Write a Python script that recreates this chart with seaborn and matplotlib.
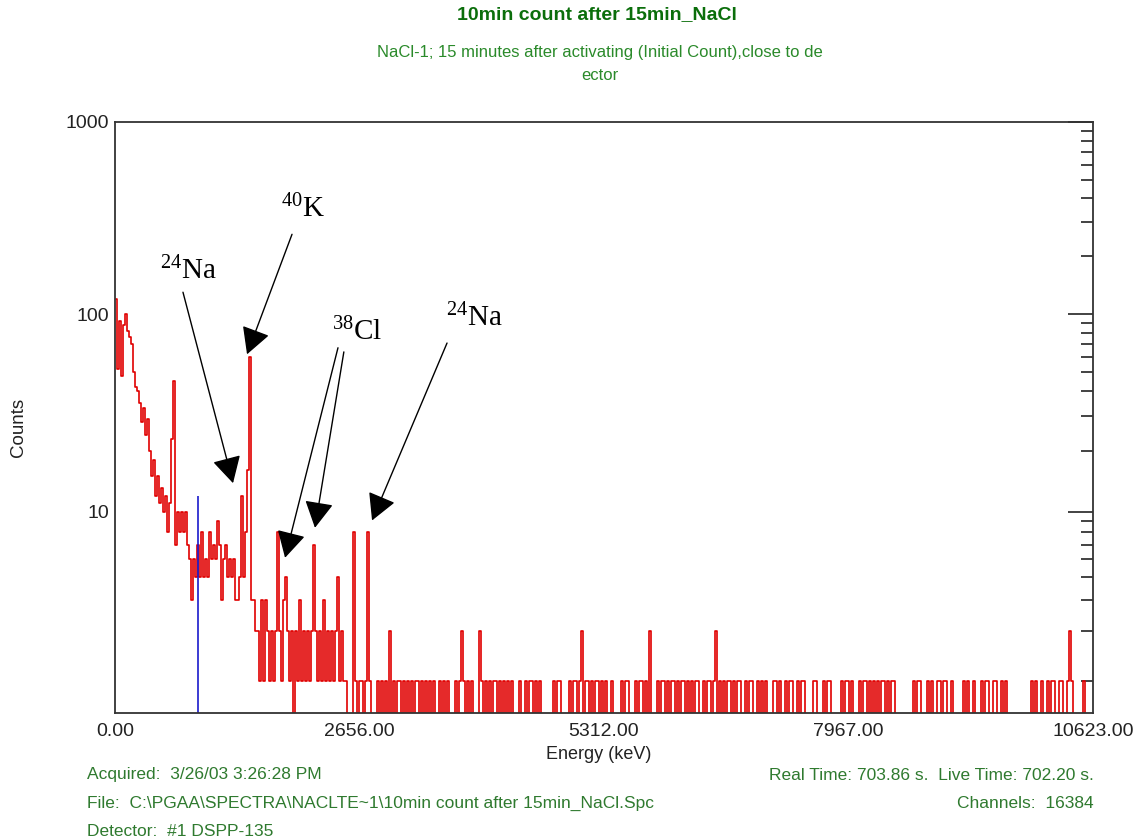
import numpy as np
import pandas as pd
import matplotlib
matplotlib.use("Agg")
import matplotlib.pyplot as plt
from matplotlib.ticker import FixedLocator, FixedFormatter, NullFormatter
import seaborn as sns

# ---------------------------------------------------------------- data
FULL_SCALE_KEV = 10623.0
N_BINS = 489                      # display bins across the full energy range

# counts per display bin, 0 .. ~2800 keV
low_counts = [
    120, 52, 92, 48, 88, 100, 82, 76, 70, 50,
    42, 40, 35, 28, 33, 24, 29, 20, 15, 18,
    12, 15, 11, 13, 10, 12, 8, 11, 23, 45,
    7, 10, 8, 10, 8, 10, 7, 6, 4, 6,
    5, 7, 5, 8, 5, 6, 5, 8, 6, 7,
    6, 9, 7, 4, 6, 7, 5, 6, 5, 6,
    4, 4, 5, 12, 5, 8, 16, 60, 4, 4,
    3, 3, 2, 4, 2, 4, 3, 2, 3, 2,
    3, 8, 3, 2, 4, 5, 3, 2, 3, 0,
    3, 2, 4, 2, 3, 2, 3, 2, 3, 7,
    3, 2, 3, 2, 4, 2, 3, 2, 3, 2,
    3, 5, 2, 3, 2, 2, 0, 0, 0, 8,
    2, 0, 2, 2, 0, 2, 8, 2, 0,
]

# counts per display bin above ~2800 keV, one digit per bin
high_counts_digits = (
    "0020202030" "2022020" "2020220202" "0202" "00" "20202" "000" "20232"
    "0202" "000" "3202" "02022" "020202" "02" "000" "20" "0" "202202" "02"
    "000000" "20220" "000" "20220230" "22020220202" "00" "20000" "2022000"
    "202202030" "00" "2022020220" "20220" "2020" "2200" "20220230" "202022020"
    "2200" "202200" "20202000" "220200" "202200" "20220000" "22000"
    "202200000" "202202000" "2022020" "2020220" "20220" "00000000" "202200020"
    "200" "220" "2200" "200000" "20200" "2000" "202200" "2200" "2020"
    "00000000000" "20200" "200" "202200" "2200" "23200000" "20000"
)

marker_energy = 898.0             # cursor position (keV)
marker_counts = 12

x_ticks = [0, 2656, 5312, 7967, 10623]
x_tick_labels = ["0.00", "2656.00", "5312.00", "7967.00", "10623.00"]
x_minor_ticks = [1328, 3984, 6639.5, 9295]
y_major = [10, 100, 1000]
y_tick_labels = ["10", "100", "1000"]
y_minor = [m * d for d in (1, 10, 100) for m in range(2, 10)]

# peak identifications
peak_labels = [r"$^{40}$K", r"$^{24}$Na", r"$^{38}$Cl", r"$^{24}$Na"]
peak_label_xy = [(0.192, 0.853), (0.0746, 0.748), (0.2474, 0.645), (0.368, 0.668)]
arrow_tails = [[(0.181, 0.810)], [(0.0695, 0.712)],
               [(0.228, 0.618), (0.234, 0.611)], [(0.3395, 0.626)]]
arrow_tips = [[(1434, 62)], [(1282, 13.8)],
              [(1847, 6.1), (2172, 8.4)], [(2792, 9.1)]]

title = "10min count after 15min_NaCl"
subtitle = ["NaCl-1; 15 minutes after activating (Initial Count),close to de",
            "ector"]
footer_left = ["Acquired:  3/26/03 3:26:28 PM",
               "File:  C:\\PGAA\\SPECTRA\\NACLTE~1\\10min count after 15min_NaCl.Spc",
               "Detector:  #1 DSPP-135"]
footer_right = ["Real Time: 703.86 s.  Live Time: 702.20 s.",
                "Channels:  16384"]

# ---------------------------------------------------------------- frame
counts = np.array(low_counts + [int(c) for c in high_counts_digits], dtype=float)
bin_kev = FULL_SCALE_KEV / N_BINS
energy = (np.arange(len(counts)) + 0.5) * bin_kev
df = pd.DataFrame({"energy": energy, "counts": counts})

sns.set_style("white")
plt.rcParams["font.family"] = ["Liberation Sans", "DejaVu Sans"]
plt.rcParams["mathtext.default"] = "regular"

W, H = 1137, 840
fig = plt.figure(figsize=(W / 100, H / 100), dpi=100)
ax = fig.add_axes([115 / W, 1 - 713 / H, (1093 - 115) / W, (713 - 122) / H])

sns.lineplot(data=df, x="energy", y="counts", drawstyle="steps-mid",
             color="#e00000", linewidth=1.2, estimator=None, sort=False, ax=ax)
ax.vlines(marker_energy, 0.5, marker_counts, color="#1a1acc", linewidth=1.2)


# counts axis: logarithmic with a small offset so the lowest count levels
# sit just above the baseline
def fwd(y):
    return np.log10(np.clip(np.asarray(y, dtype=float) - 0.8, 1e-3, None))


def inv(y):
    return 10.0 ** np.asarray(y, dtype=float) + 0.8


ax.set_yscale("function", functions=(fwd, inv))
ax.set_ylim(1.62, 1000)
ax.set_xlim(0, FULL_SCALE_KEV)

ax.yaxis.set_major_locator(FixedLocator(y_major))
ax.yaxis.set_major_formatter(FixedFormatter(y_tick_labels))
ax.yaxis.set_minor_locator(FixedLocator(y_minor))
ax.yaxis.set_minor_formatter(NullFormatter())
ax.xaxis.set_major_locator(FixedLocator(x_ticks))
ax.xaxis.set_major_formatter(FixedFormatter(x_tick_labels))
ax.xaxis.set_minor_locator(FixedLocator(x_minor_ticks))
ax.xaxis.set_minor_formatter(NullFormatter())

ax.tick_params(which="both", direction="in", top=False, right=True,
               color="#222222", width=1.2, labelcolor="#222222", labelsize=14)
ax.tick_params(axis="y", which="major", length=18, pad=4)
ax.tick_params(axis="y", which="minor", length=9)
ax.tick_params(axis="x", which="major", length=12, pad=7)
ax.tick_params(axis="x", which="minor", length=10)
for s in ax.spines.values():
    s.set_color("#333333")
    s.set_linewidth(1.3)

ax.set_ylabel("")
ax.set_xlabel("Energy (keV)", fontsize=13, color="#222222")
ax.xaxis.set_label_coords(0.495, -0.056)
fig.text(18 / W, 1 - 427 / H, "Counts", rotation=90, ha="center", va="center",
         fontsize=13.5, color="#222222")

# peak labels and arrows
for lab, (tx, ty), tails, tips in zip(peak_labels, peak_label_xy, arrow_tails, arrow_tips):
    ax.text(tx, ty, lab, transform=ax.transAxes, ha="center", va="center",
            fontsize=21, family="Liberation Serif", color="black")
    for tail, tip in zip(tails, tips):
        ax.annotate("", xy=tip, xycoords="data", xytext=tail,
                    textcoords="axes fraction",
                    arrowprops=dict(arrowstyle="-|>,head_length=0.55,head_width=0.3",
                                    mutation_scale=30, color="black", lw=1.0,
                                    shrinkA=0, shrinkB=0))

# titles
fig.text(597 / W, 1 - 15 / H, title, ha="center", va="center", fontsize=14,
         fontweight="bold", color="#0b6e0b")
fig.text(600 / W, 1 - 52 / H, subtitle[0], ha="center", va="center",
         fontsize=12, color="#2a8a2a")
fig.text(600 / W, 1 - 75 / H, subtitle[1], ha="center", va="center",
         fontsize=12, color="#2a8a2a")

# acquisition footer
for i, t in enumerate(footer_left):
    fig.text(87 / W, 1 - (775 + 28 * i) / H, t, ha="left", va="center",
             fontsize=12.5, color="#2f7a2f")
for i, t in enumerate(footer_right):
    fig.text(1094 / W, 1 - (775 + 28 * i) / H, t, ha="right", va="center",
             fontsize=12.5, color="#2f7a2f")

fig.savefig("out.png", dpi=100, facecolor="white")
